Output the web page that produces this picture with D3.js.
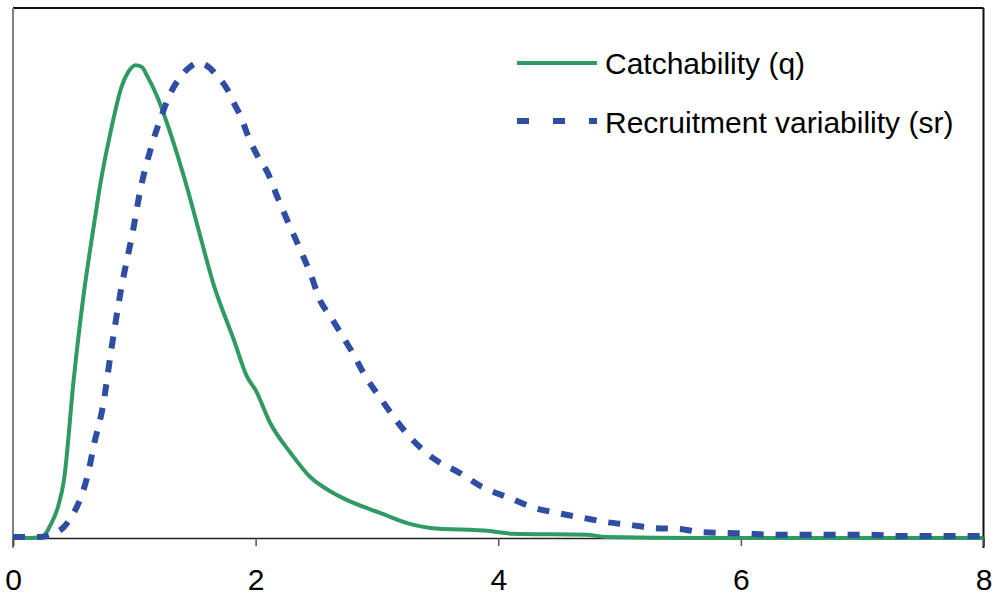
<!DOCTYPE html>
<html>
<head>
<meta charset="utf-8">
<script src="https://cdn.jsdelivr.net/npm/d3@7"></script>
<style>
  body { margin: 0; background: #fff; }
  svg { display: block; font-family: "Liberation Sans", Arial, sans-serif; }
</style>
</head>
<body>
<div id="chart"></div>
<script>
// x values and relative frequency
const catchX = [0, 0.15, 0.25, 0.31, 0.37, 0.42, 0.50, 0.58, 0.67, 0.72, 0.81, 0.89, 0.95, 1.01, 1.06, 1.11, 1.19, 1.24, 1.36, 1.44, 1.53, 1.65, 1.82, 1.93, 2.00, 2.12, 2.29, 2.45, 2.64, 2.75, 3.03, 3.25, 3.44, 3.93, 4.12, 4.73, 4.89, 5.66, 8];
const catchY = [0, 0, 0.004, 0.025, 0.058, 0.109, 0.298, 0.455, 0.595, 0.668, 0.772, 0.848, 0.879, 0.892, 0.889, 0.870, 0.832, 0.802, 0.719, 0.657, 0.581, 0.481, 0.374, 0.304, 0.279, 0.217, 0.160, 0.115, 0.085, 0.072, 0.047, 0.028, 0.019, 0.013, 0.008, 0.006, 0.002, 0, 0];

const recruitX = [0, 0.23, 0.31, 0.42, 0.50, 0.56, 0.62, 0.67, 0.74, 0.81, 0.89, 0.99, 1.05, 1.14, 1.22, 1.30, 1.38, 1.46, 1.52, 1.59, 1.69, 1.77, 1.82, 1.88, 1.94, 2.02, 2.10, 2.18, 2.26, 2.37, 2.45, 2.53, 2.62, 2.70, 2.80, 2.89, 3.04, 3.27, 3.46, 3.68, 3.87, 4.10, 4.28, 4.49, 4.70, 4.89, 5.08, 5.27, 5.49, 5.68, 5.99, 6.29, 7.08, 7.28, 8];
const recruitY = [0.002, 0.002, 0.006, 0.021, 0.047, 0.077, 0.123, 0.179, 0.247, 0.355, 0.468, 0.581, 0.657, 0.738, 0.794, 0.840, 0.870, 0.889, 0.896, 0.892, 0.870, 0.845, 0.821, 0.794, 0.757, 0.719, 0.689, 0.643, 0.600, 0.543, 0.500, 0.449, 0.417, 0.387, 0.349, 0.311, 0.260, 0.191, 0.151, 0.123, 0.096, 0.075, 0.058, 0.047, 0.038, 0.030, 0.025, 0.019, 0.017, 0.011, 0.009, 0.006, 0.006, 0.004, 0.004];

const xTicks = [0, 2, 4, 6, 8];
const seriesNames = ["Catchability (q)", "Recruitment variability (sr)"];

const width = 997, height = 601;
const margin = { top: 8, right: 13, bottom: 63, left: 13 };

const svg = d3.select("#chart").append("svg")
    .attr("width", width)
    .attr("height", height);

const x = d3.scaleLinear().domain([0, 8]).range([margin.left, width - margin.right - 0.5]);
const y = d3.scaleLinear().domain([0, 1]).range([height - margin.bottom, margin.top]);

const green = "#2f9a62", blue = "#2e4da3";

// frame: top and right in black, left in grey
svg.append("line")
    .attr("x1", x(0)).attr("x2", x(8))
    .attr("y1", y(1)).attr("y2", y(1))
    .attr("stroke", "#111").attr("stroke-width", 2);
svg.append("line")
    .attr("x1", x(8)).attr("x2", x(8))
    .attr("y1", y(1)).attr("y2", y(0) + 10)
    .attr("stroke", "#111").attr("stroke-width", 2);
svg.append("line")
    .attr("x1", x(0)).attr("x2", x(0))
    .attr("y1", y(1)).attr("y2", y(0) + 10)
    .attr("stroke", "#808080").attr("stroke-width", 2);

// bottom axis
const xAxis = svg.append("g")
    .attr("transform", `translate(0,${y(0)})`)
    .call(d3.axisBottom(x).tickValues(xTicks).tickSize(8).tickPadding(23).tickFormat(d3.format("d")));
xAxis.select(".domain").attr("stroke", "#222").attr("stroke-width", 1.5);
xAxis.selectAll(".tick line").attr("stroke", "#555").attr("stroke-width", 1.5);
xAxis.selectAll(".tick text")
    .attr("font-size", 30)
    .attr("font-family", "'Liberation Sans', Arial, sans-serif")
    .attr("fill", "#000");

const line = d3.line()
    .x(d => x(d[0]))
    .y(d => y(d[1]))
    .curve(d3.curveMonotoneX);

const catchData = catchX.map((v, i) => [v, catchY[i]]);
const recruitData = recruitX.map((v, i) => [v, recruitY[i]]);

svg.append("path")
    .datum(catchData)
    .attr("fill", "none")
    .attr("stroke", green)
    .attr("stroke-width", 4)
    .attr("d", line);

svg.append("path")
    .datum(recruitData)
    .attr("fill", "none")
    .attr("stroke", blue)
    .attr("stroke-width", 6)
    .attr("stroke-dasharray", "12,12")
    .attr("d", line);

// legend
const legend = svg.append("g");
const legendRows = [
    { name: seriesNames[0], color: green, width: 4, dash: null, ly: 63, ty: 74 },
    { name: seriesNames[1], color: blue, width: 6, dash: "12,24", ly: 121, ty: 133 }
];
legendRows.forEach(r => {
    legend.append("line")
        .attr("x1", 517).attr("x2", 597)
        .attr("y1", r.ly).attr("y2", r.ly)
        .attr("stroke", r.color)
        .attr("stroke-width", r.width)
        .attr("stroke-dasharray", r.dash);
    legend.append("text")
        .attr("x", 605).attr("y", r.ty)
        .attr("font-size", 30)
        .attr("fill", "#000")
        .text(r.name);
});
</script>
</body>
</html>
